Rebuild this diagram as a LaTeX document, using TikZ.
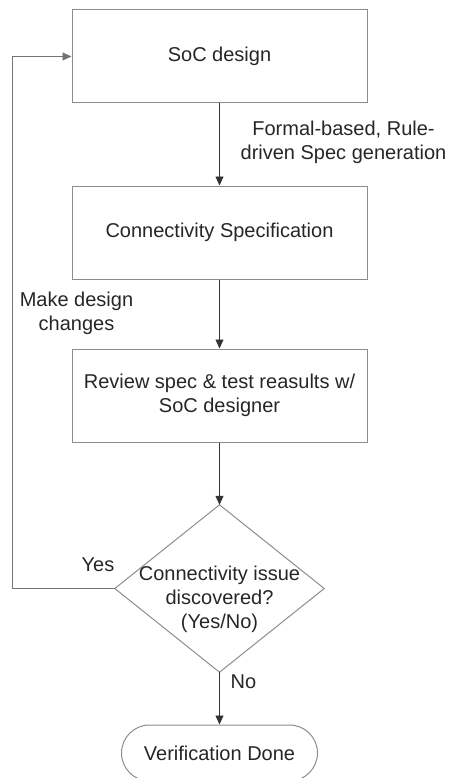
\documentclass[tikz,border=0pt]{standalone}
\usepackage{fontspec}
\setmainfont{Liberation Sans}
\usetikzlibrary{arrows.meta}
\begin{document}
\begin{tikzpicture}[x=1pt,y=1pt,
  every node/.style={font=\fontsize{20}{24}\selectfont, text=black!85},
  box/.style={draw=black!45, line width=1pt, minimum width=295pt, minimum height=93pt, align=center, inner sep=0pt},
  flow/.style={draw=black!80, line width=0.8pt, -{Triangle[length=9pt,width=8pt]}},
  loopline/.style={draw=black!55, line width=0.9pt, -{Triangle[length=9pt,width=8pt]}},
  lbl/.style={align=center, inner sep=0pt}]
\useasboundingbox (0,0) rectangle (451,-778);
\node[box] (soc) at (219.5,-56.5) {SoC design};
\node[box] (spec) at (219.5,-232.5) {Connectivity Specification};
\node[box] (rev) at (219.5,-395.5) {Review spec \& test reasults w/\\SoC designer};
\node[minimum width=209pt, minimum height=167pt, inner sep=0pt] (dia) at (219.5,-588.5) {};
\draw[draw=black!45, line width=1pt] (dia.north) -- (dia.east) -- (dia.south) -- (dia.west) -- cycle;
\node[lbl] (diatext) at (219.5,-599.5) {Connectivity issue\\discovered?\\(Yes/No)};
\node[draw=black!45, line width=1pt, rounded corners=28pt, minimum width=196pt, minimum height=56pt, inner sep=0pt] (done) at (219.5,-753) {Verification Done};
\coordinate (cl) at (12,-588.5);
\coordinate (ct) at (12,-56.5);
\draw[flow] (soc) -- (spec);
\draw[flow] (spec) -- (rev);
\draw[flow] (rev) -- (dia.north);
\draw[flow] (dia.south) -- (done);
\draw[loopline] (dia.west) -- (cl) -- (ct) -- (soc.west);
\node[lbl] (l1) at (343.5,-142.5) {Formal-based, Rule-\\driven Spec generation};
\node[lbl] (l2) at (76.5,-313.5) {Make design\\changes};
\node[lbl] (l3) at (98,-565) {Yes};
\node[lbl] (l4) at (243.5,-682) {No};
\end{tikzpicture}
\end{document}
